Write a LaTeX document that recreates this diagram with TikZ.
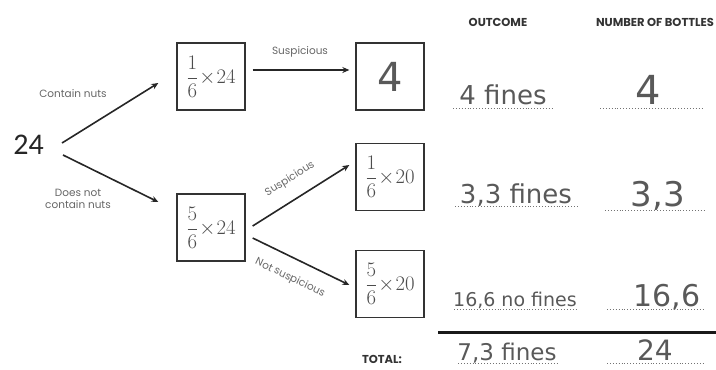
\documentclass[tikz,border=0pt]{standalone}
\usepackage{fontspec}
\setmainfont{Poppins}
\newfontfamily\handfont{DejaVu Sans}
\newfontfamily\numfont{Carlito}
\usetikzlibrary{arrows.meta}
\begin{document}
\begin{tikzpicture}[x=1pt,y=-1pt,
  box/.style={draw=black!80, line width=1.3pt, minimum width=68pt, minimum height=67pt, inner sep=0pt},
  arr/.style={-{Stealth[length=7pt,width=6pt]}, line width=1.6pt, draw=black!85},
  lbl/.style={font=\fontsize{10.5}{12}\selectfont, text=black!60, inner sep=1pt},
  head/.style={font=\fontsize{11.5}{13}\selectfont\bfseries, text=black!80, inner sep=0pt},
  hand/.style={font=\handfont, text=black!65, inner sep=0pt, anchor=base},
  frac/.style={font=\fontsize{20}{22}\selectfont, text=black!70},
  dotrule/.style={dotted, line width=0.9pt, draw=black!55},
]
\useasboundingbox (0,0) rectangle (716,370);

% start number
\node[font=\numfont\fontsize{30}{30}\selectfont, text=black!85, anchor=east, inner sep=0pt] (n24) at (44,145) {24};

% boxes
\node[box, frac] (b1) at (211,76.5) {\(\displaystyle\frac{1}{6}\!\times\!24\)};
\node[box, text=black!65, font=\handfont\fontsize{40}{40}\selectfont] (b2) at (390,76.5) {4};
\node[box, frac] (b3) at (211,227.5) {\(\displaystyle\frac{5}{6}\!\times\!24\)};
\node[box, frac] (b4) at (390,177) {\(\displaystyle\frac{1}{6}\!\times\!20\)};
\node[box, frac] (b5) at (390,284) {\(\displaystyle\frac{5}{6}\!\times\!20\)};

% connectors
\draw[arr] ([shift={(18,-2)}]n24.east) -- ([shift={(-18,6.5)}]b1.west);
\draw[arr] ([shift={(19,10)}]n24.east) -- ([shift={(-18,-25.5)}]b3.west);
\draw[arr] ([shift={(7,-6.5)}]b1.east) -- ([shift={(-6,-6.5)}]b2.west);
\draw[arr] ([shift={(7,-1.5)}]b3.east) -- ([shift={(-6,-12)}]b4.west);
\draw[arr] ([shift={(7,10.5)}]b3.east) -- ([shift={(-6,1)}]b5.west);

% branch labels
\node[lbl] (l1) at (73,94) {Contain nuts};
\node[lbl, align=center] (l2) at (78,199) {Does not\\contain nuts};
\node[lbl] (l3) at (300,52) {Suspicious};
\node[lbl, rotate=32] (l4) at (290,179) {Suspicious};
\node[lbl, rotate=-25.6] (l5) at (290,278) {Not suspicious};

% headers
\node[head] (h1) at (498,22) {OUTCOME};
\node[head] (h2) at (655,22) {NUMBER OF BOTTLES};

% outcome rows
\node[hand, font=\handfont\fontsize{26}{26}\selectfont] (o1) at (503,104) {4 fines};
\node[hand, font=\handfont\fontsize{40}{40}\selectfont] (c1) at (648,104) {4};
\draw[dotrule] (453,108) -- (553,108);
\draw[dotrule] (600,108) -- (703,108);

\node[hand, font=\handfont\fontsize{26}{26}\selectfont] (o2) at (516,203) {3,3 fines};
\node[hand, font=\handfont\fontsize{34}{34}\selectfont] (c2) at (658,206) {3,3};
\draw[dotrule] (455,206) -- (577,206);
\draw[dotrule] (605,210) -- (705,210);

\node[hand, font=\handfont\fontsize{19}{19}\selectfont] (o3) at (515,306) {16,6 no fines};
\node[hand, font=\handfont\fontsize{30}{30}\selectfont] (c3) at (667,306) {16,6};
\draw[dotrule] (454,309) -- (577,309);
\draw[dotrule] (607,309) -- (703,309);

% total
\draw[line width=3pt, draw=black!90] (438,332) -- (716,332);
\node[head] (tot) at (382,359) {TOTAL:};
\node[hand, font=\handfont\fontsize{23}{23}\selectfont] (o4) at (507,360) {7,3 fines};
\node[hand, font=\handfont\fontsize{28}{28}\selectfont] (c4) at (655,360) {24};
\draw[dotrule] (458,363) -- (557,363);
\draw[dotrule] (607,363) -- (703,363);
\end{tikzpicture}
\end{document}
